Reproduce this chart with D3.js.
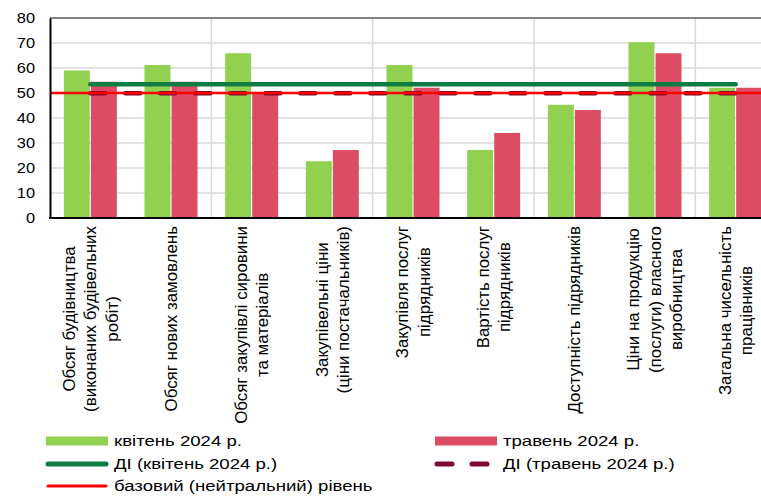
<!DOCTYPE html>
<html>
<head>
<meta charset="utf-8">
<script src="https://cdn.jsdelivr.net/npm/d3@7"></script>
<style>
  body { margin: 0; background: #fff; }
  svg { display: block; font-family: Arial, "Liberation Sans", sans-serif; }
  .grid line { stroke: #d9d9d9; stroke-width: 1.5; }
  .tick text { fill: #000; }
</style>
</head>
<body>
<svg id="chart"></svg>
<script>
const categories = [
    ['Обсяг будівництва', '(виконаних будівельних', 'робіт)'],
    ['Обсяг нових замовлень'],
    ['Обсяг закупівлі сировини', 'та матеріалів'],
    ['Закупівельні ціни', '(ціни постачальників)'],
    ['Закупівля послуг', 'підрядників'],
    ['Вартість послуг', 'підрядників'],
    ['Доступність підрядників'],
    ['Ціни на продукцію', '(послуги) власного', 'виробництва'],
    ['Загальна чисельність', 'працівників']
];
const april = [59, 61.2, 65.9, 22.7, 61.2, 27.2, 45.3, 70.3, 52.1];
const may = [54.5, 54.5, 50, 27.2, 52.1, 34, 43.2, 65.9, 52.1];
const diApril = 53.5;
const diMay = 49.9;
const baseLevel = 50;
const yTicks = [0, 10, 20, 30, 40, 50, 60, 70, 80];
const seriesNames = ['квітень 2024 р.', 'травень 2024 р.'];
const diNames = ['ДІ (квітень 2024 р.)', 'ДІ (травень 2024 р.)'];
const baseName = 'базовий (нейтральний) рівень';

const width = 761, height = 496;
const margin = { top: 18, left: 50, bottom: 278 };
const plotRight = 776; // plot runs past the window edge

const svg = d3.select('#chart').attr('width', width).attr('height', height);

const idx = d3.range(categories.length);
const x0 = d3.scaleBand().domain(idx).range([margin.left, plotRight]).paddingInner(0.343).paddingOuter(0.1715);
const x1 = d3.scaleBand().domain([0, 1]).range([0, x0.bandwidth()]).paddingInner(0.04);
const xc = d3.scaleBand().domain(idx).range([margin.left, plotRight]);
const y = d3.scaleLinear().domain([0, 80]).range([height - margin.bottom, margin.top]);

// horizontal grid
svg.append('g').attr('class', 'grid')
    .selectAll('line').data(yTicks.slice(1, -1)).enter().append('line')
    .attr('x1', margin.left).attr('x2', width)
    .attr('y1', d => y(d)).attr('y2', d => y(d));

// vertical grid every second category
svg.append('g').attr('class', 'grid')
    .selectAll('line').data(idx.filter(i => i > 0 && i % 2 === 0)).enter().append('line')
    .attr('x1', d => xc(d)).attr('x2', d => xc(d))
    .attr('y1', y(80)).attr('y2', y(0));

// top border
svg.append('line')
    .attr('x1', margin.left).attr('x2', width)
    .attr('y1', y(80)).attr('y2', y(80))
    .attr('stroke', '#595959').attr('stroke-width', 1.5);

const colors = ['#92d050', '#dc4c65'];
[april, may].forEach((vals, s) => {
    svg.append('g').selectAll('rect').data(vals).enter().append('rect')
        .attr('x', (d, i) => x0(i) + x1(s))
        .attr('width', x1.bandwidth())
        .attr('y', d => y(d))
        .attr('height', d => y(0) - y(d))
        .attr('fill', colors[s]);
});

const xStart = xc(0) + xc.bandwidth() / 2;
const xEnd = xc(categories.length - 1) + xc.bandwidth() / 2;

svg.append('line')
    .attr('x1', xStart).attr('x2', xEnd)
    .attr('y1', y(diApril)).attr('y2', y(diApril))
    .attr('stroke', '#0e7d43').attr('stroke-width', 4.5).attr('stroke-linecap', 'round');

svg.append('line')
    .attr('x1', xStart).attr('x2', xEnd)
    .attr('y1', y(diMay)).attr('y2', y(diMay))
    .attr('stroke', '#80092f').attr('stroke-width', 4.5)
    .attr('stroke-linecap', 'round').attr('stroke-dasharray', '15 20');

svg.append('line')
    .attr('x1', margin.left).attr('x2', width)
    .attr('y1', y(baseLevel)).attr('y2', y(baseLevel))
    .attr('stroke', '#ff0000').attr('stroke-width', 2.5);

// axes
const yAxis = svg.append('g')
    .attr('transform', `translate(${margin.left},0)`)
    .call(d3.axisLeft(y).tickValues(yTicks).tickSize(0));
yAxis.select('.domain').attr('stroke', '#000').attr('stroke-width', 2);
yAxis.selectAll('.tick text')
    .attr('font-size', 14.5)
    .attr('x', 0)
    .attr('transform', 'translate(-15,0) scale(1.13,1)');

svg.append('line')
    .attr('x1', margin.left - 1).attr('x2', width)
    .attr('y1', y(0)).attr('y2', y(0))
    .attr('stroke', '#000').attr('stroke-width', 2);

// category labels, rotated
const labelTop = 226;
const lineH = 21.5;
idx.forEach(i => {
    const lines = categories[i];
    const cx = xc(i) + xc.bandwidth() / 2;
    const g = svg.append('g');
    const texts = lines.map((t, k) => g.append('text')
        .attr('font-size', 16.9)
        .attr('text-anchor', 'middle')
        .attr('dy', '0.35em')
        .text(t));
    const maxW = d3.max(texts, t => t.node().getComputedTextLength());
    const cy = labelTop + maxW / 2;
    texts.forEach((t, k) => {
        const off = (k - (lines.length - 1) / 2) * lineH;
        t.attr('transform', `translate(${cx + off},${cy}) rotate(-90)`);
    });
});

// legend
const legend = svg.append('g').attr('font-size', 15.5);
const lx = [46, 435];
const ly = [441, 464, 486];
const swW = 62;
const legendText = (x, yy, t) => legend.append('text')
    .attr('transform', `translate(${x},${yy}) scale(1.2,1)`)
    .attr('dy', '0.35em').text(t);

seriesNames.forEach((name, s) => {
    legend.append('rect')
        .attr('x', lx[s]).attr('y', ly[0] - 4.5)
        .attr('width', swW).attr('height', 9)
        .attr('fill', colors[s]);
    legendText(lx[s] + 68, ly[0], name);
});
legend.append('line')
    .attr('x1', lx[0] + 2).attr('x2', lx[0] + swW - 2)
    .attr('y1', ly[1]).attr('y2', ly[1])
    .attr('stroke', '#0e7d43').attr('stroke-width', 5).attr('stroke-linecap', 'round');
legendText(lx[0] + 68, ly[1], diNames[0]);
legend.append('line')
    .attr('x1', lx[1] + 2).attr('x2', lx[1] + swW)
    .attr('y1', ly[1]).attr('y2', ly[1])
    .attr('stroke', '#80092f').attr('stroke-width', 5).attr('stroke-linecap', 'round')
    .attr('stroke-dasharray', '15 20');
legendText(lx[1] + 68, ly[1], diNames[1]);
legend.append('line')
    .attr('x1', lx[0] + 2).attr('x2', lx[0] + swW - 2)
    .attr('y1', ly[2]).attr('y2', ly[2])
    .attr('stroke', '#ff0000').attr('stroke-width', 3).attr('stroke-linecap', 'round');
legendText(lx[0] + 68, ly[2], baseName);
</script>
</body>
</html>
